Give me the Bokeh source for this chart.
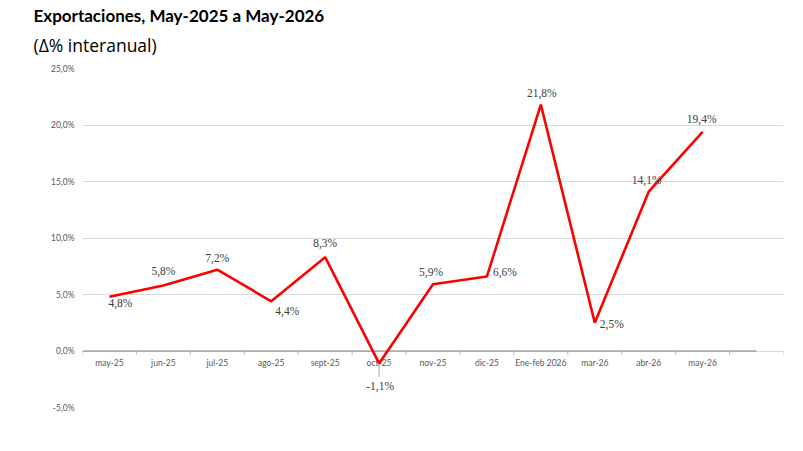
from bokeh.plotting import figure
from bokeh.models import (ColumnDataSource, FixedTicker, Range1d, Title)
from bokeh.core.properties import value
from bokeh.embed import file_html
from bokeh.resources import INLINE

# ---- data ----
categories = ["may-25", "jun-25", "jul-25", "ago-25", "sept-25", "oct-25", "nov-25",
              "dic-25", "Ene-feb 2026", "mar-26", "abr-26", "may-26"]
values = [4.8, 5.8, 7.2, 4.4, 8.3, -1.1, 5.9, 6.6, 21.8, 2.5, 14.1, 19.4]
value_labels = ["4,8%", "5,8%", "7,2%", "4,4%", "8,3%", "-1,1%", "5,9%", "6,6%",
                "21,8%", "2,5%", "14,1%", "19,4%"]
y_ticks = [-5, 0, 5, 10, 15, 20, 25]
y_tick_labels = ["-5,0%", "0,0%", "5,0%", "10,0%", "15,0%", "20,0%", "25,0%"]
title_text = "Exportaciones, May-2025 a May-2026"
subtitle_text = "(\u0394% interanual)"

# label offsets in screen pixels (styling)
lab_dx = [11, 0, 0, 16, 0, 1, -2, 18, 1, 17, -2, -1]
lab_dy = [6, -14, -12, 10, -14, 23, -12, -4, -12, 1, -12, -13]

n_slots = len(categories) + 1
xs = [i + 0.5 for i in range(len(categories))]

W, H = 787, 435
p = figure(width=W, height=H, output_backend="svg", toolbar_location=None,
           title=None,
           x_range=Range1d(0, n_slots), y_range=Range1d(-5, 25),
           min_border_left=82, min_border_right=4, min_border_top=68,
           min_border_bottom=28)
p.outline_line_color = None
p.background_fill_color = "white"
p.border_fill_color = "white"

# titles (closest to frame added first)
p.add_layout(Title(text=subtitle_text, align="left", offset=-49, standoff=24,
                   text_font="Open Sans", text_font_size="17.5px",
                   text_font_style="normal", text_color="#000000"), "above")
p.add_layout(Title(text=title_text, align="left", offset=-49, standoff=-14,
                   text_font="Lato", text_font_style="bold", text_font_size="17px",
                   text_color="#000000"), "above")

# axes
p.xaxis.visible = False
p.xgrid.visible = False
p.yaxis.ticker = FixedTicker(ticks=y_ticks)
p.yaxis.major_label_overrides = {t: l for t, l in zip(y_ticks, y_tick_labels)}
p.yaxis.axis_line_color = None
p.yaxis.major_tick_line_color = None
p.yaxis.minor_tick_line_color = None
p.yaxis.major_label_text_font = "Lato"
p.yaxis.major_label_text_font_size = "8.5px"
p.yaxis.major_label_text_color = "#595959"
p.yaxis.major_label_standoff = 2
p.ygrid.ticker = FixedTicker(ticks=y_ticks)
p.ygrid.grid_line_color = "#d9d9d9"
p.ygrid.grid_line_width = 1

# zero axis line and category ticks
p.segment(x0=[0], y0=[0], x1=[n_slots - 0.5], y1=[0], line_color="#7f7f7f", line_width=1)
bounds = list(range(0, n_slots + 1))
p.segment(x0=bounds, y0=[0] * len(bounds), x1=bounds, y1=[-0.35] * len(bounds),
          line_color="#bfbfbf", line_width=1)

# category labels
cat_src = ColumnDataSource(dict(x=xs, y=[0] * len(xs), t=categories))
p.text(x="x", y="y", text="t", source=cat_src, text_align="center",
       text_baseline="middle", y_offset=12, text_font=value("Lato"),
       text_font_size="8.5px", text_color="#595959")

# leader line for negative label
neg_i = values.index(min(values))
p.segment(x0=[xs[neg_i]], y0=[values[neg_i]], x1=[xs[neg_i]], y1=[values[neg_i] - 1.2],
          line_color="#a6a6a6", line_width=1)

# line
src = ColumnDataSource(dict(x=xs, y=values, t=value_labels, dx=lab_dx, dy=lab_dy))
p.line(x="x", y="y", source=src, line_color="#ff0000", line_width=2.6)

# data labels
p.text(x="x", y="y", text="t", source=src, x_offset="dx", y_offset="dy",
       text_align="center", text_baseline="middle",
       text_font=value("Liberation Serif"), text_font_size="11.5px", text_color="#404040")

open("out.html", "w").write(file_html(p, INLINE))
